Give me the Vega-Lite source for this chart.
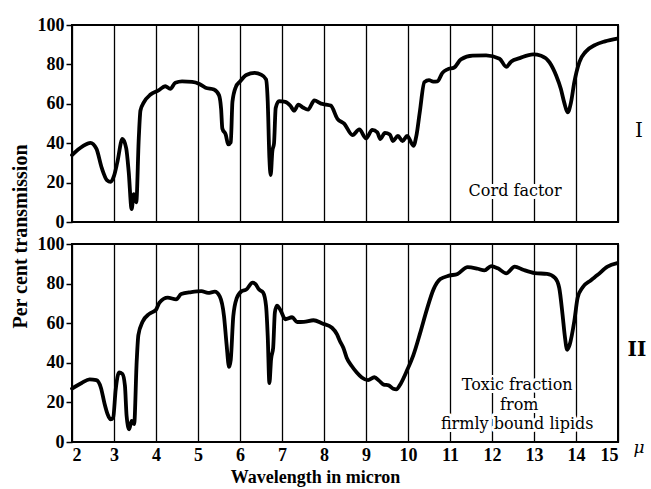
{
  "$schema": "https://vega.github.io/schema/vega-lite/v6.json",
  "background": "white",
  "padding": {"left": 9, "top": 15, "right": 5, "bottom": 2},
  "spacing": 22,
  "bounds": "flush",
  "config": {
    "view": {"stroke": "black", "strokeWidth": 2},
    "font": "Liberation Serif",
    "axis": {
      "labelFont": "Liberation Serif", "labelFontSize": 18, "labelFontWeight": "bold", "labelColor": "black",
      "titleFont": "Liberation Serif", "titleFontSize": 18, "titleFontWeight": "bold", "titleColor": "black",
      "gridColor": "black", "gridWidth": 1.3, "gridOpacity": 1, "tickColor": "black", "domain": false
    }
  },
  "datasets": {
    "cord": [
      {"w": 2.0, "t": 34}, {"w": 2.25, "t": 38.4}, {"w": 2.44, "t": 40.2}, {"w": 2.58, "t": 37.2},
      {"w": 2.71, "t": 27.3}, {"w": 2.83, "t": 21.3}, {"w": 2.92, "t": 20.4}, {"w": 3.0, "t": 23.4},
      {"w": 3.08, "t": 30.4}, {"w": 3.2, "t": 42.2}, {"w": 3.29, "t": 37.5}, {"w": 3.35, "t": 25.5},
      {"w": 3.42, "t": 6.6}, {"w": 3.47, "t": 14.2}, {"w": 3.53, "t": 10}, {"w": 3.59, "t": 42.6},
      {"w": 3.63, "t": 56.6}, {"w": 3.71, "t": 60.7}, {"w": 3.87, "t": 64.7}, {"w": 4.06, "t": 66.8},
      {"w": 4.22, "t": 68.9}, {"w": 4.34, "t": 67.6}, {"w": 4.46, "t": 70.7}, {"w": 4.62, "t": 71.4},
      {"w": 4.86, "t": 71.1}, {"w": 5.02, "t": 70.2}, {"w": 5.18, "t": 68.2}, {"w": 5.38, "t": 67.3},
      {"w": 5.5, "t": 64.4}, {"w": 5.55, "t": 57.4}, {"w": 5.58, "t": 47.4}, {"w": 5.66, "t": 44.4},
      {"w": 5.72, "t": 39.4}, {"w": 5.78, "t": 40.5}, {"w": 5.82, "t": 61}, {"w": 5.9, "t": 68.5},
      {"w": 6.0, "t": 71.3}, {"w": 6.15, "t": 74.6}, {"w": 6.35, "t": 75.7}, {"w": 6.5, "t": 74.8},
      {"w": 6.62, "t": 72.4}, {"w": 6.66, "t": 61.3}, {"w": 6.7, "t": 32.4}, {"w": 6.73, "t": 23.8},
      {"w": 6.77, "t": 35.9}, {"w": 6.81, "t": 39.9}, {"w": 6.85, "t": 57.9}, {"w": 6.93, "t": 61.4},
      {"w": 7.08, "t": 61}, {"w": 7.2, "t": 59}, {"w": 7.29, "t": 56.5}, {"w": 7.39, "t": 59.6},
      {"w": 7.5, "t": 58.1}, {"w": 7.62, "t": 57}, {"w": 7.77, "t": 61.7}, {"w": 7.93, "t": 60.1},
      {"w": 8.05, "t": 59.6}, {"w": 8.16, "t": 59.1}, {"w": 8.32, "t": 52.4}, {"w": 8.48, "t": 49.9},
      {"w": 8.68, "t": 44.1}, {"w": 8.84, "t": 47}, {"w": 9.0, "t": 42.5}, {"w": 9.15, "t": 46.8},
      {"w": 9.27, "t": 45.5}, {"w": 9.34, "t": 42.1}, {"w": 9.45, "t": 45.2}, {"w": 9.57, "t": 44.4},
      {"w": 9.64, "t": 41.1}, {"w": 9.76, "t": 43.7}, {"w": 9.87, "t": 41.1}, {"w": 9.98, "t": 43.7},
      {"w": 10.13, "t": 38.7}, {"w": 10.2, "t": 43.8}, {"w": 10.28, "t": 55.7}, {"w": 10.39, "t": 71},
      {"w": 10.5, "t": 72}, {"w": 10.6, "t": 71.3}, {"w": 10.7, "t": 71.4}, {"w": 10.82, "t": 75.7},
      {"w": 10.94, "t": 77.5}, {"w": 11.1, "t": 78.4}, {"w": 11.26, "t": 82.6}, {"w": 11.54, "t": 84.5},
      {"w": 11.86, "t": 84.6}, {"w": 12.18, "t": 82.9}, {"w": 12.34, "t": 78.8}, {"w": 12.46, "t": 81.5},
      {"w": 12.66, "t": 83.2}, {"w": 12.98, "t": 85.1}, {"w": 13.17, "t": 84.4}, {"w": 13.37, "t": 81},
      {"w": 13.53, "t": 74.2}, {"w": 13.64, "t": 67.5}, {"w": 13.72, "t": 60.6}, {"w": 13.8, "t": 55.6},
      {"w": 13.88, "t": 60.6}, {"w": 13.96, "t": 71}, {"w": 14.08, "t": 81.2}, {"w": 14.23, "t": 86.4},
      {"w": 14.46, "t": 89.9}, {"w": 14.69, "t": 91.7}, {"w": 14.98, "t": 93.1}
    ],
    "toxic": [
      {"w": 2.0, "t": 27}, {"w": 2.23, "t": 29.8}, {"w": 2.42, "t": 31.6}, {"w": 2.58, "t": 31.2},
      {"w": 2.69, "t": 27.3}, {"w": 2.77, "t": 19.8}, {"w": 2.85, "t": 13.9}, {"w": 2.92, "t": 11.4},
      {"w": 2.98, "t": 12.3}, {"w": 3.04, "t": 26.4}, {"w": 3.12, "t": 35.1}, {"w": 3.2, "t": 34.4},
      {"w": 3.26, "t": 28.5}, {"w": 3.3, "t": 13.2}, {"w": 3.36, "t": 6.4}, {"w": 3.42, "t": 10.6},
      {"w": 3.48, "t": 9.1}, {"w": 3.54, "t": 40.6}, {"w": 3.58, "t": 54}, {"w": 3.68, "t": 60.7},
      {"w": 3.84, "t": 64.7}, {"w": 4.0, "t": 66.8}, {"w": 4.08, "t": 70.3}, {"w": 4.28, "t": 72.9},
      {"w": 4.48, "t": 72}, {"w": 4.6, "t": 74.7}, {"w": 4.84, "t": 75.7}, {"w": 5.08, "t": 76.2},
      {"w": 5.24, "t": 75.3}, {"w": 5.4, "t": 75.9}, {"w": 5.52, "t": 73.4}, {"w": 5.62, "t": 63.4},
      {"w": 5.68, "t": 49.4}, {"w": 5.74, "t": 37.9}, {"w": 5.78, "t": 41.5}, {"w": 5.84, "t": 63.5},
      {"w": 5.92, "t": 72.5}, {"w": 6.04, "t": 76.2}, {"w": 6.15, "t": 77}, {"w": 6.3, "t": 80.5},
      {"w": 6.37, "t": 79.7}, {"w": 6.45, "t": 77.1}, {"w": 6.55, "t": 75.5}, {"w": 6.62, "t": 68.8},
      {"w": 6.66, "t": 53.5}, {"w": 6.7, "t": 29.8}, {"w": 6.74, "t": 41.8}, {"w": 6.79, "t": 47.7},
      {"w": 6.83, "t": 65.4}, {"w": 6.88, "t": 68.9}, {"w": 6.97, "t": 66.3}, {"w": 7.08, "t": 62},
      {"w": 7.24, "t": 63}, {"w": 7.36, "t": 60.6}, {"w": 7.52, "t": 60.7}, {"w": 7.75, "t": 61.5},
      {"w": 7.96, "t": 59.9}, {"w": 8.19, "t": 57.7}, {"w": 8.31, "t": 54.3}, {"w": 8.38, "t": 50.9},
      {"w": 8.46, "t": 47.6}, {"w": 8.54, "t": 42.6}, {"w": 8.66, "t": 38.4}, {"w": 8.78, "t": 35.1},
      {"w": 8.9, "t": 32.6}, {"w": 9.05, "t": 31.3}, {"w": 9.2, "t": 32.7}, {"w": 9.31, "t": 31},
      {"w": 9.42, "t": 29}, {"w": 9.54, "t": 28.6}, {"w": 9.65, "t": 26.9}, {"w": 9.72, "t": 26.6},
      {"w": 9.83, "t": 29.6}, {"w": 9.98, "t": 36.3}, {"w": 10.13, "t": 44}, {"w": 10.29, "t": 55.1},
      {"w": 10.45, "t": 67}, {"w": 10.61, "t": 77.2}, {"w": 10.77, "t": 82.3}, {"w": 10.98, "t": 84},
      {"w": 11.18, "t": 84.9}, {"w": 11.42, "t": 88.3}, {"w": 11.66, "t": 87.5}, {"w": 11.82, "t": 86.7},
      {"w": 11.98, "t": 88.8}, {"w": 12.14, "t": 87.7}, {"w": 12.34, "t": 85.2}, {"w": 12.54, "t": 88.6},
      {"w": 12.74, "t": 87}, {"w": 13.02, "t": 85.3}, {"w": 13.31, "t": 84.9}, {"w": 13.5, "t": 82.9},
      {"w": 13.6, "t": 77.9}, {"w": 13.68, "t": 64.3}, {"w": 13.73, "t": 54.2}, {"w": 13.79, "t": 46.6},
      {"w": 13.85, "t": 49.2}, {"w": 13.96, "t": 61.1}, {"w": 14.04, "t": 73}, {"w": 14.16, "t": 78.2},
      {"w": 14.35, "t": 81.6}, {"w": 14.51, "t": 84.3}, {"w": 14.75, "t": 88.6}, {"w": 14.98, "t": 90.3}
    ],
    "cordNotes": [{"w": 12.55, "t": 15.7, "label": "Cord factor"}],
    "cordSide": [{"w": 15.5, "t": 46, "label": "I"}],
    "toxicNotes": [
      {"w": 12.6, "t": 28.8, "label": "Toxic fraction"},
      {"w": 12.65, "t": 18.7, "label": "from"},
      {"w": 12.6, "t": 9, "label": "firmly bound lipids"}
    ],
    "toxicSide": [{"w": 15.45, "t": 46.5, "label": "II"}],
    "unit": [{"w": 15.5, "t": -3, "label": "μ"}]
  },
  "vconcat": [
    {
      "width": 546,
      "height": 197,
      "encoding": {
        "x": {"field": "w", "type": "quantitative",
              "scale": {"domain": [2, 15], "nice": false, "zero": false},
              "axis": {"values": [2,3,4,5,6,7,8,9,10,11,12,13,14,15], "grid": true, "labels": false, "ticks": false, "title": null}},
        "y": {"field": "t", "type": "quantitative",
              "scale": {"domain": [0, 100], "nice": false},
              "axis": {"values": [0,20,40,60,80,100], "grid": false, "tickSize": 6, "tickWidth": 1.5, "labelPadding": 2,
                       "title": "Per cent transmission", "titleFontSize": 20, "titleAngle": -90, "titleX": -52, "titleY": 211,
                       "titleAlign": "center", "titleBaseline": "middle"}}
      },
      "layer": [
        {"data": {"name": "cord"},
         "mark": {"type": "line", "color": "black", "strokeWidth": 3.8, "interpolate": "monotone", "strokeJoin": "round", "strokeCap": "round"}},
        {"data": {"name": "cordNotes"},
         "mark": {"type": "text", "font": "DejaVu Serif", "fontSize": 16, "fill": "white", "stroke": "white", "strokeWidth": 6, "strokeJoin": "round"},
         "encoding": {"text": {"field": "label"}}},
        {"data": {"name": "cordNotes"},
         "mark": {"type": "text", "font": "DejaVu Serif", "fontSize": 16, "color": "black"},
         "encoding": {"text": {"field": "label"}}},
        {"data": {"name": "cordSide"},
         "mark": {"type": "text", "font": "DejaVu Serif", "fontSize": 20, "color": "black"},
         "encoding": {"text": {"field": "label"}}}
      ]
    },
    {
      "width": 546,
      "height": 198,
      "encoding": {
        "x": {"field": "w", "type": "quantitative",
              "scale": {"domain": [2, 15], "nice": false, "zero": false},
              "axis": {"values": [2,3,4,5,6,7,8,9,10,11,12,13,14,15], "grid": true, "ticks": false, "labelPadding": 4,
                       "title": "Wavelength in micron", "titleX": 243, "titleY": 40, "titleAlign": "center", "titleBaseline": "alphabetic"}},
        "y": {"field": "t", "type": "quantitative",
              "scale": {"domain": [0, 100], "nice": false},
              "axis": {"values": [0,20,40,60,80,100], "grid": false, "tickSize": 6, "tickWidth": 1.5, "labelPadding": 2, "title": null}}
      },
      "layer": [
        {"data": {"name": "toxic"},
         "mark": {"type": "line", "color": "black", "strokeWidth": 3.8, "interpolate": "monotone", "strokeJoin": "round", "strokeCap": "round"}},
        {"data": {"name": "toxicNotes"},
         "mark": {"type": "text", "font": "DejaVu Serif", "fontSize": 16, "fill": "white", "stroke": "white", "strokeWidth": 6, "strokeJoin": "round"},
         "encoding": {"text": {"field": "label"}}},
        {"data": {"name": "toxicNotes"},
         "mark": {"type": "text", "font": "DejaVu Serif", "fontSize": 16, "color": "black"},
         "encoding": {"text": {"field": "label"}}},
        {"data": {"name": "toxicSide"},
         "mark": {"type": "text", "font": "DejaVu Serif", "fontSize": 20, "fontWeight": "bold", "color": "black"},
         "encoding": {"text": {"field": "label"}}},
        {"data": {"name": "unit"},
         "mark": {"type": "text", "font": "DejaVu Serif", "fontSize": 17, "fontStyle": "italic", "color": "black"},
         "encoding": {"text": {"field": "label"}}}
      ]
    }
  ]
}
